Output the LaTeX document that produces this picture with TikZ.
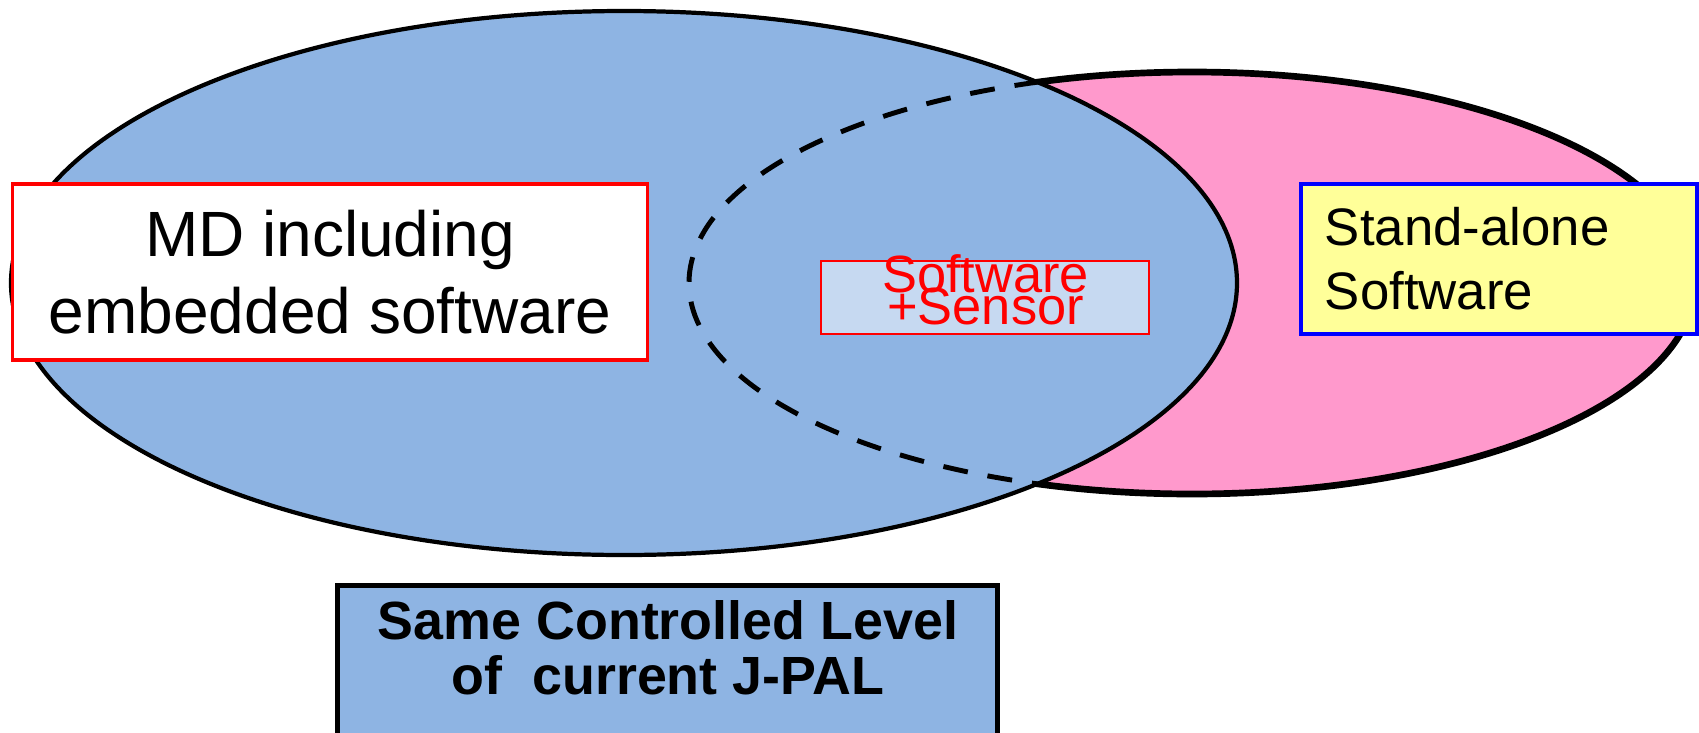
\documentclass[tikz,border=0pt]{standalone}
\usepackage{fontspec}
\setmainfont{Liberation Sans}
\usetikzlibrary{positioning}
\definecolor{mdblue}{HTML}{8EB4E3}
\definecolor{swpink}{HTML}{FF99CC}
\definecolor{noteyellow}{HTML}{FFFF99}
\definecolor{paleblue}{HTML}{C6D9F1}
\newcommand\tightlines{\lineskiplimit=-\maxdimen\relax}

\begin{document}
\begin{tikzpicture}[x=0.01cm,y=-0.01cm,
  mdbox/.style={draw=red,fill=white,line width=1pt,minimum width=6.35cm,minimum height=1.76cm,
    inner sep=0pt,align=center,font=\fontsize{18.2}{21.9}\selectfont},
  sabox/.style={draw=blue,fill=noteyellow,line width=1pt,text width=3.48cm,inner xsep=0.24cm,
    minimum height=1.5cm,align=left,font=\fontsize{15}{18.2}\selectfont},
  swbox/.style={draw=red,fill=paleblue,line width=0.6pt,minimum width=3.28cm,minimum height=0.73cm,inner sep=0pt},
  swtext/.style={text=red,inner sep=0pt,align=center,font={\fontsize{14.9}{9.1}\selectfont\tightlines}},
  lvlbox/.style={draw=black,fill=mdblue,line width=1.4pt,minimum width=6.59cm,minimum height=1.8cm,inner sep=0pt},
  lvltext/.style={inner sep=0pt,align=center,font=\fontsize{15.3}{15.6}\selectfont\bfseries}]
\useasboundingbox (0,0) rectangle (1699,733);
\clip (0,0) rectangle (1699,733);

% the two sets
\draw[fill=swpink,line width=1.9pt] (1192,283) ellipse [x radius=503,y radius=211];
\draw[fill=mdblue,line width=1.2pt] (624,283) ellipse [x radius=613,y radius=272];
\begin{scope}
  \clip (624,283) ellipse [x radius=613,y radius=272];
  \draw[line width=1.4pt,dash pattern=on 7.1pt off 5.7pt] (1192,283) ellipse [x radius=503,y radius=211];
\end{scope}

% labels
\node[mdbox] (md) at (330,272) {MD including\\embedded software};
\node[sabox] (sa) at (1499,259) {Stand-alone\\Software};
\node[swbox] (sw) at (985,297.5) {};
\node[swtext] (swlabel) at (985.5,290) {Software\\+Sensor};

\node[lvlbox] (lvl) at (667.5,676) {};
\node[lvltext] (lvllabel) at (668,647.5) {Same Controlled Level\\of\ \ current J-PAL};
\end{tikzpicture}
\end{document}
